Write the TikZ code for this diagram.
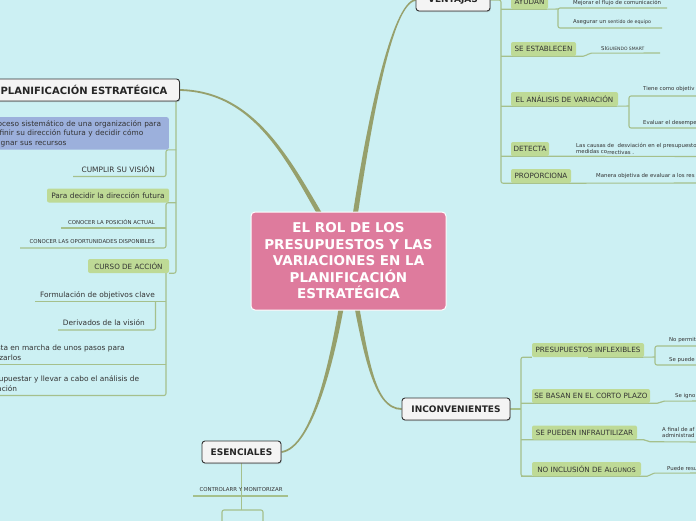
\documentclass[tikz,border=0pt]{standalone}
\usepackage{fontspec}
\setmainfont{DejaVu Sans}
\usetikzlibrary{calc,shadows}
\definecolor{bgc}{RGB}{204,240,243}
\definecolor{pinkc}{RGB}{222,123,157}
\definecolor{branchc}{RGB}{150,160,108}
\definecolor{linec}{RGB}{165,192,140}
\definecolor{greenc}{RGB}{190,218,150}
\definecolor{bluec}{RGB}{156,176,220}
\definecolor{mainfill}{RGB}{244,244,244}
\definecolor{maindraw}{RGB}{51,51,51}
\definecolor{txtc}{RGB}{51,51,51}
\pgfdeclarelayer{back}
\pgfdeclarelayer{lines}
\pgfsetlayers{back,lines,main}
\tikzset{
  mainbox/.style={draw=maindraw, fill=mainfill, line width=0.9pt, rounded corners=3pt,
    font=\bfseries\fontsize{9}{10}\selectfont, text=black!85, minimum height=22pt, inner sep=0pt,
    drop shadow={shadow xshift=0.8pt, shadow yshift=-1pt, opacity=0.35}},
  centerbox/.style={fill=pinkc, draw=white, line width=1pt, rounded corners=4pt, text=white,
    font=\bfseries\fontsize{13.5}{16.5}\selectfont, align=center, minimum width=195pt,
    minimum height=98pt, inner sep=0pt},
  greenbox/.style={fill=greenc, rounded corners=2pt, font=\fontsize{7.2}{8}\selectfont,
    text=txtc, minimum height=14pt, inner sep=0pt},
  bluebox/.style={fill=bluec, rounded corners=2pt, font=\fontsize{7.4}{9.5}\selectfont,
    text=txtc, align=left},
  small/.style={font=\fontsize{5.4}{6.4}\selectfont, text=txtc, inner sep=0pt},
  medium/.style={font=\fontsize{7.4}{9.5}\selectfont, text=txtc, inner sep=0pt},
  branch/.style={fill=branchc},
  conn/.style={draw=linec, line width=1.1pt, rounded corners=2pt},
}
\newcommand\taperbranch[6]{%
  \fill[branch] ($(#1)!#5!90:(#2)$) .. controls ($(#2)!#5!-90:(#1)$) and ($(#3)!#6!90:(#4)$) ..
    ($(#4)!#6!-90:(#3)$) -- ($(#4)!#6!90:(#3)$) .. controls ($(#3)!#6!-90:(#4)$) and ($(#2)!#5!90:(#1)$) ..
    ($(#1)!#5!-90:(#2)$) -- cycle;}
\begin{document}
\begin{tikzpicture}[x=1pt,y=-1pt]
\useasboundingbox (0,0) rectangle (696,520);
\begin{pgfonlayer}{back}
  \fill[bgc] (-30,-30) rectangle (730,550);
\end{pgfonlayer}

% central and main topics
\node[centerbox] (c) at (348.5,261) {EL ROL DE LOS\\PRESUPUESTOS Y LAS\\VARIACIONES EN LA\\PLANIFICACIÓN\\ESTRATÉGICA};
\node[mainbox, minimum width=74pt] (ve) at (453,0) {VENTAJAS};
\node[mainbox, minimum width=191pt, font=\bfseries\fontsize{10}{11}\selectfont] (pl) at (84,90) {PLANIFICACIÓN ESTRATÉGICA};
\node[mainbox, minimum width=108pt] (inc) at (456,409) {INCONVENIENTES};
\node[mainbox, minimum width=79pt] (es) at (241.5,452) {ESENCIALES};

% VENTAJAS subtree
\node[greenbox, minimum width=37pt, minimum height=15pt] (ay) at (529.5,1.5) {AYUDAN};
\node[greenbox, minimum width=65pt] (se) at (543.5,49) {SE ESTABLECEN};
\node[greenbox, minimum width=107pt] (an) at (564.5,99) {EL ANÁLISIS DE VARIACIÓN};
\node[greenbox, minimum width=38pt] (de) at (530,149) {DETECTA};
\node[greenbox, minimum width=60pt] (pr) at (541,176) {PROPORCIONA};
\node[small, anchor=west] (m1) at (573,3) {Mejorar el flujo de comunicación};
\node[small, anchor=west] (m2) at (573,22) {Asegurar un \raisebox{-0.6pt}{\fontsize{4.8}{5}\selectfont sentido de equipo}};
\node[small, anchor=west] (m3) at (601,49) {SI{\fontsize{4.5}{5}\selectfont GUIENDO SMART}};
\node[small, anchor=west] (m4) at (643,89) {Tiene como objetiv};
\node[small, anchor=west] (m5) at (643,123) {Evaluar el desempe};
\node[small, anchor=west, align=left, font=\fontsize{5.4}{6.3}\selectfont] (m6) at (576,149) {Las causas de\ \ desviación en el presupuesto\\medidas co\raisebox{-0.8pt}{rrectivas .}};
\node[small, anchor=west] (m7) at (596,176) {Manera objetiva de evaluar a los res};

% INCONVENIENTES subtree
\node[greenbox, minimum width=112pt] (pi) at (588,350) {PRESUPUESTOS INFLEXIBLES};
\node[greenbox, minimum width=118pt] (sb) at (591,396) {SE BASAN EN EL CORTO PLAZO};
\node[greenbox, minimum width=105pt] (sp) at (584.5,432.5) {SE PUEDEN INFRAUTILIZAR};
\node[greenbox, minimum width=109pt] (na) at (586.5,469) {NO INCLUSIÓN DE A{\fontsize{6.2}{6}\selectfont LGUNOS}};
\node[small, anchor=west] (n1) at (669,340) {No permit};
\node[small, anchor=west] (n2) at (669,360) {Se puede};
\node[small, anchor=west] (n3) at (675,396) {Se igno};
\node[small, anchor=west, align=left] (n4) at (662,432.5) {A final de af\\administrad};
\node[small, anchor=west] (n5) at (667,468) {Puede resu};

% PLANIFICACION subtree
\node[bluebox, anchor=north east, text width=176pt, inner xsep=2.5pt, inner ysep=3pt] (ps) at (169,117)
  {Proceso sistemático de una organización para\\definir su dirección futura y decidir cómo\\asignar sus recursos};
\node[medium, anchor=east] (cv) at (155,169) {CUMPLIR SU VISIÓN};
\node[greenbox, minimum width=122pt, font=\fontsize{7.4}{8}\selectfont] (pd) at (108,195.5) {Para decidir la dirección futura};
\node[small, anchor=east] (c1) at (155,222) {CONOCER LA POSICIÓN ACTUAL};
\node[small, anchor=east] (c2) at (155,242) {CONOCER LAS OPORTUNIDADES DISPONIBLES};
\node[greenbox, minimum width=81pt] (cu) at (128.5,266) {CURSO DE ACCIÓN};
\node[medium, anchor=east] (fo) at (155,295) {Formulación de objetivos clave};
\node[medium, anchor=east] (dv) at (145,323) {Derivados de la visión};
\node[medium, anchor=west, align=left] (pm) at (-17,352.5) {Puesta en marcha de unos pasos para\\realizarlos};
\node[medium, anchor=west, align=left] (pp) at (-17,383.5) {Presupuestar y llevar a cabo el análisis de\\variación};

% ESENCIALES subtree
\node[small] (ct) at (241,490) {CONTROLARR Y MONITORIZAR};

% coordinates
\coordinate (v1) at (368,120);  \coordinate (v2) at (392,3);
\coordinate (p1) at (300,190);  \coordinate (p2) at (270,92);
\coordinate (i1) at (365,350);  \coordinate (i2) at (372,409);
\coordinate (e1) at (335,360);  \coordinate (e2) at (312,448);
\coordinate (vtrunk) at (501,0);
\coordinate (ayj) at (558,9);   \coordinate (ay1) at (667,8);  \coordinate (ay2) at (662,28);
\coordinate (smr) at (660,53);
\coordinate (anj) at (629,106); \coordinate (an1) at (700,96); \coordinate (an2) at (700,128);
\coordinate (der) at (700,156.5);
\coordinate (prr) at (700,183);
\coordinate (itrunk) at (521,409);
\coordinate (pij) at (655,357); \coordinate (pi1) at (700,346); \coordinate (pi2) at (700,365);
\coordinate (sbr) at (700,401);
\coordinate (spr) at (700,442);
\coordinate (nar) at (700,473);
\coordinate (ltrunk) at (176,101);
\coordinate (lj) at (166,0);
\coordinate (kcv) at (73,176.5);
\coordinate (kc1) at (61,228);
\coordinate (kc2) at (20,248);
\coordinate (kfo) at (35,301.5);
\coordinate (dj) at (155.5,0);
\coordinate (kdv) at (58,330);
\coordinate (kpm) at (-20,364.5);
\coordinate (kpp) at (-20,395.5);
\coordinate (ctl) at (193,496); \coordinate (ctr) at (288,496);
\coordinate (ej) at (241.5,510);
\coordinate (eb1) at (222,530); \coordinate (eb2) at (263,530);

\begin{pgfonlayer}{lines}
  % main branches
  \taperbranch{c.center}{v1}{v2}{ve.west}{2.6pt}{0.9pt}
  \taperbranch{c.center}{p1}{p2}{pl.east}{2.6pt}{0.9pt}
  \taperbranch{c.center}{i1}{i2}{inc.west}{2.6pt}{0.9pt}
  \taperbranch{c.center}{e1}{e2}{es.east}{2.6pt}{0.9pt}

  % VENTAJAS
  \draw[conn] (ve.east) -- (vtrunk) -- (vtrunk |- pr.south) -- (pr.south east) -- ++(12,0) -- (prr);
  \draw[conn] (vtrunk |- ay.south) -- (ay.south east) -- (ayj);
  \draw[conn] (ay1) -- (ay1 -| ayj) -- (ayj |- ay2) -- (ay2);
  \draw[conn] (vtrunk |- se.south) -- (se.south east) -- ++(9,0) -- ++(4,-3) -- (smr);
  \draw[conn] (vtrunk |- an.south) -- (an.south east) -- (anj);
  \draw[conn] (an1) -- (an1 -| anj) -- (anj |- an2) -- (an2);
  \draw[conn] (vtrunk |- de.south) -- (de.south east) -- ++(12,0) -- (der);

  % INCONVENIENTES
  \draw[conn] (inc.east) -- (itrunk);
  \draw[conn] (pi.south west) -- (itrunk |- pi.south) -- (itrunk |- na.south) -- (na.south west);
  \draw[conn] (pi.south) -- (pi.south east) -- (pij);
  \draw[conn] (pi1) -- (pi1 -| pij) -- (pij |- pi2) -- (pi2);
  \draw[conn] (itrunk |- sb.south) -- (sb.south east) -- ++(9,0) -- ++(3,-2) -- (sbr);
  \draw[conn] (itrunk |- sp.south) -- (sp.south east) -- ++(8,0) -- ++(3,2) -- (spr);
  \draw[conn] (itrunk |- na.south) -- (na.south east) -- ++(8,0) -- ++(3,-3) -- (nar);

  % PLANIFICACION
  \draw[conn] (ltrunk) -- (ltrunk |- cu.south) -- (cu.south east);
  \draw[conn] (ltrunk |- ps.south) -- (lj |- ps.south) -- (lj |- kcv) -- (kcv);
  \draw[conn] (ltrunk |- pd.south) -- (lj |- pd.south) -- (lj |- kc2) -- (kc2);
  \draw[conn] (lj |- kc1) -- (kc1);
  \draw[conn] (lj |- cu.south) -- (lj |- kpp) -- (kpp);
  \draw[conn] (lj |- kfo) -- (kfo);
  \draw[conn] (lj |- kpm) -- (kpm);
  \draw[conn] (dj |- kfo) -- (dj |- kdv) -- (kdv);

  % ESENCIALES
  \draw[conn] (es.south) -- (es.south |- ctl);
  \draw[conn] (ctl) -- (ctr);
  \draw[conn] (es.south |- ctl) -- (ej);
  \draw[conn] (eb1) -- (eb1 |- ej) -- (eb2 |- ej) -- (eb2);
\end{pgfonlayer}
\end{tikzpicture}
\end{document}
